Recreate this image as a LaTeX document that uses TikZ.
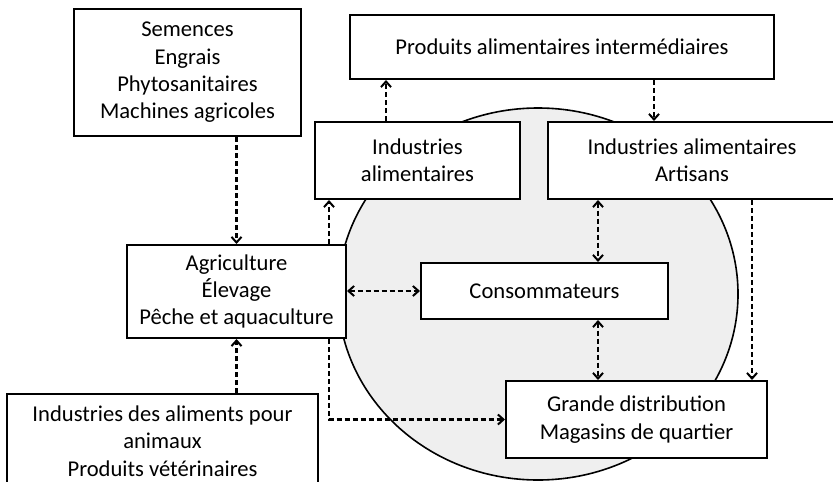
\documentclass[tikz,border=0pt]{standalone}
\usepackage{fontspec}
\setmainfont{Carlito}
\usetikzlibrary{arrows.meta}

\definecolor{zone}{HTML}{EFEFEF}

\tikzset{
  box/.style={draw, line width=1pt, fill=white, align=center, inner sep=0pt,
    font=\fontsize{11.3}{13.65}\selectfont},
  barb/.tip={Straight Barb[length=2.8pt,width=5pt,line width=1pt]},
  flow/.style={line width=1.1pt, dash pattern=on 2.6pt off 1.4pt, -barb},
  both/.style={flow, barb-barb}
}

\begin{document}
\begin{tikzpicture}[x=0.5pt,y=-0.5pt]
\useasboundingbox (0,0) rectangle (833,481);
% The grey zone behind the food chain
\draw[line width=0.8pt, fill=zone] (538,294) ellipse [x radius=100pt, y radius=93pt];
% Boxes
\node[box, minimum width=113.5pt, minimum height=63.5pt] (semences) at (187.5,72.5)
  {Semences\\Engrais\\Phytosanitaires\\Machines agricoles};
\node[box, minimum width=212pt, minimum height=32pt] (produits) at (562,47)
  {Produits alimentaires intermédiaires};
\node[box, minimum width=102.5pt, minimum height=38.5pt] (indalim) at (417.5,160.5)
  {Industries\\alimentaires};
\node[box, minimum width=144pt, minimum height=38.5pt] (artisans) at (692,160.5)
  {Industries alimentaires\\Artisans};
\node[box, minimum width=109.5pt, minimum height=46.5pt] (agri) at (236.5,291.5)
  {Agriculture\\Élevage\\Pêche et aquaculture};
\node[box, minimum width=123.5pt, minimum height=28pt] (conso) at (544.5,291)
  {Consommateurs};
\node[box, minimum width=130.5pt, minimum height=38.5pt] (distrib) at (636.5,419.5)
  {Grande distribution\\Magasins de quartier};
\node[box, minimum width=155.5pt, minimum height=47pt] (aliments) at (162.5,441)
  {Industries des aliments pour\\animaux\\Produits vétérinaires};
% Columns of the vertical flows
\coordinate (col1) at (329,0);
\coordinate (col2) at (386,0);
\coordinate (col3) at (598,0);
\coordinate (col4) at (654,0);
\coordinate (col5) at (752,0);
% Flows
\draw[flow] (semences.south -| agri) -- (agri.north);
\draw[flow] (aliments.north -| agri) -- (agri.south);
\draw[both] (agri.east |- conso) -- (conso.west);
\draw[flow] (agri.north -| col1) -- (indalim.south -| col1);
\draw[flow] (agri.south -| col1) |- (distrib.west);
\draw[flow] (indalim.north -| col2) -- (produits.south -| col2);
\draw[flow] (produits.south -| col4) -- (artisans.north -| col4);
\draw[both] (artisans.south -| col3) -- (conso.north -| col3);
\draw[both] (conso.south -| col3) -- (distrib.north -| col3);
\draw[flow] (artisans.south -| col5) -- (distrib.north -| col5);
\end{tikzpicture}
\end{document}
